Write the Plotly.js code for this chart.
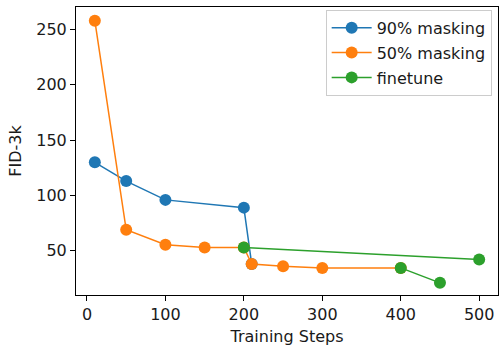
<!DOCTYPE html>
<html><head><meta charset="utf-8">
<script src="https://cdn.plot.ly/plotly-3.0.1.min.js"></script>
<style>html,body{margin:0;padding:0;background:#fff}</style>
</head><body><div id="chart" style="width:499px;height:348px"></div>
<script>
const x90 = [10, 50, 100, 200, 210];
const y90 = [130, 113, 96, 89, 38];
const x50 = [10, 50, 100, 150, 200, 210, 250, 300, 400];
const y50 = [258, 69, 55.5, 53, 53, 38, 36, 34.5, 34.5];
const xFt = [200, 500, 500, 400, 450];
const yFt = [53, 42, null, 34.5, 21];
const names = ['90% masking', '50% masking', 'finetune'];
const colors = ['#1f77b4', '#ff7f0e', '#2ca02c'];

const mk = (x, y, i) => ({
  x: x, y: y, name: names[i], type: 'scatter', mode: 'lines+markers',
  legendgroup: 'g' + i,
  line: {color: colors[i], width: 1.5},
  marker: {color: colors[i], size: 12},
  connectgaps: false
});
const data = [mk(x90, y90, 0), mk(x50, y50, 1), mk(xFt, yFt, 2)];
const FS = 16;
const axCommon = {
  showgrid: false, zeroline: false, showline: true, mirror: true,
  linecolor: '#000', linewidth: 1, ticks: 'outside', ticklen: 5,
  tickcolor: '#000', tickwidth: 1,
  tickfont: {family: 'DejaVu Sans', size: FS, color: '#1a1a1a'}
};
const layout = {
  width: 499, height: 348,
  margin: {l: 76, r: 1, t: 7, b: 53},
  paper_bgcolor: '#fff', plot_bgcolor: '#fff',
  font: {family: 'DejaVu Sans', size: FS, color: '#1a1a1a'},
  xaxis: Object.assign({}, axCommon, {
    range: [-14, 524], tickvals: [0, 100, 200, 300, 400, 500],
    title: {text: 'Training Steps', font: {family: 'DejaVu Sans', size: FS}, standoff: 7}
  }),
  yaxis: Object.assign({}, axCommon, {
    range: [10, 270.4], tickvals: [50, 100, 150, 200, 250],
    title: {text: 'FID-3k', font: {family: 'DejaVu Sans', size: FS}, standoff: 10}
  }),
  showlegend: true,
  legend: {
    x: 0.985, y: 0.99, xanchor: 'right', yanchor: 'top',
    itemwidth: 40, tracegroupgap: 1, traceorder: 'grouped',
    bgcolor: 'rgba(255,255,255,0.8)', bordercolor: '#ccc', borderwidth: 1,
    font: {family: 'DejaVu Sans', size: FS, color: '#1a1a1a'}
  }
};
Plotly.newPlot('chart', data, layout, {displayModeBar: false, staticPlot: true});
</script></body></html>
